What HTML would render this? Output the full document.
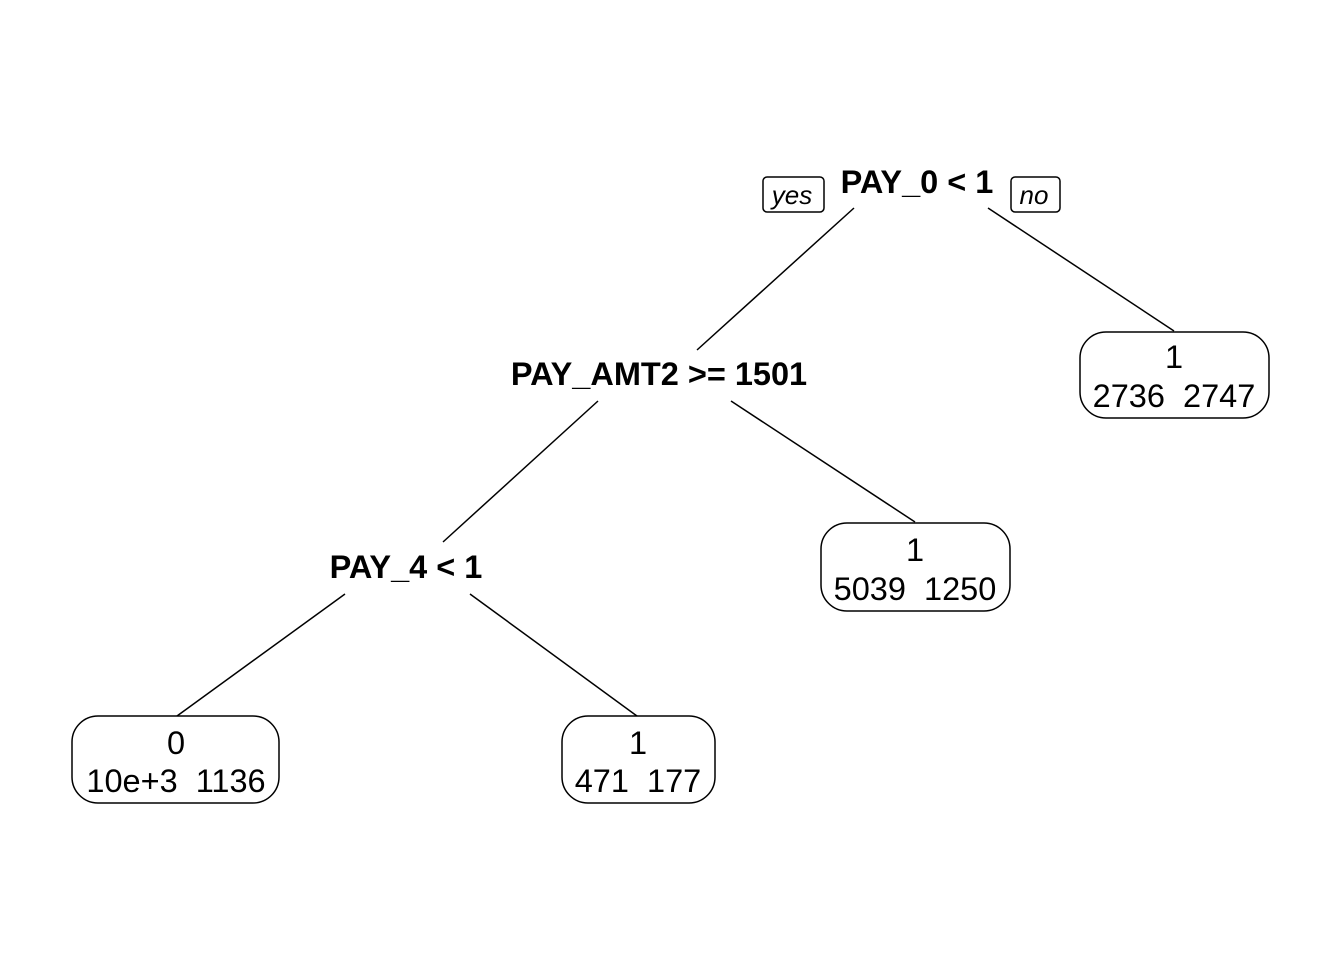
<!DOCTYPE html>
<html><head><meta charset="utf-8"><style>
html,body{margin:0;padding:0;background:#fff;}
svg{display:block;}
text{font-family:"Liberation Sans",Arial,sans-serif;fill:#000;}
.b{font-weight:bold;font-size:32.5px;}
.n{font-size:32.5px;}
.i{font-style:italic;font-size:26px;}
</style></head><body>
<svg width="1344" height="960" viewBox="0 0 1344 960" xmlns="http://www.w3.org/2000/svg">
<g stroke="#000" stroke-width="1.5" fill="none">
<line x1="854" y1="208" x2="697" y2="350"/>
<line x1="988" y1="208" x2="1174" y2="331"/>
<line x1="598" y1="401" x2="443" y2="542"/>
<line x1="731" y1="401" x2="915" y2="522"/>
<line x1="345" y1="594" x2="177" y2="716"/>
<line x1="470" y1="594" x2="637" y2="716"/>
<rect x="763" y="177" width="61" height="35" rx="4"/>
<rect x="1011" y="177" width="49" height="35" rx="4"/>
<rect x="1080" y="332" width="189" height="86" rx="26"/>
<rect x="821" y="523" width="189" height="88" rx="26"/>
<rect x="72" y="716" width="207" height="87" rx="26"/>
<rect x="562" y="716" width="153" height="87" rx="26"/>
</g>
<text class="i" x="792" y="204" text-anchor="middle">yes</text>
<text class="i" x="1034" y="204" text-anchor="middle">no</text>
<text class="b" x="917" y="193" text-anchor="middle">PAY_0 &lt; 1</text>
<text class="b" x="659" y="385" text-anchor="middle">PAY_AMT2 &gt;= 1501</text>
<text class="b" x="406" y="578" text-anchor="middle">PAY_4 &lt; 1</text>
<text class="n" x="1174" y="368" text-anchor="middle">1</text>
<text class="n" x="1174" y="407" text-anchor="middle" xml:space="preserve">2736  2747</text>
<text class="n" x="915" y="561" text-anchor="middle">1</text>
<text class="n" x="915" y="600" text-anchor="middle" xml:space="preserve">5039  1250</text>
<text class="n" x="176" y="754" text-anchor="middle">0</text>
<text class="n" x="176" y="792" text-anchor="middle" xml:space="preserve">10e+3  1136</text>
<text class="n" x="638" y="754" text-anchor="middle">1</text>
<text class="n" x="638" y="792" text-anchor="middle" xml:space="preserve">471  177</text>
</svg>
</body></html>
